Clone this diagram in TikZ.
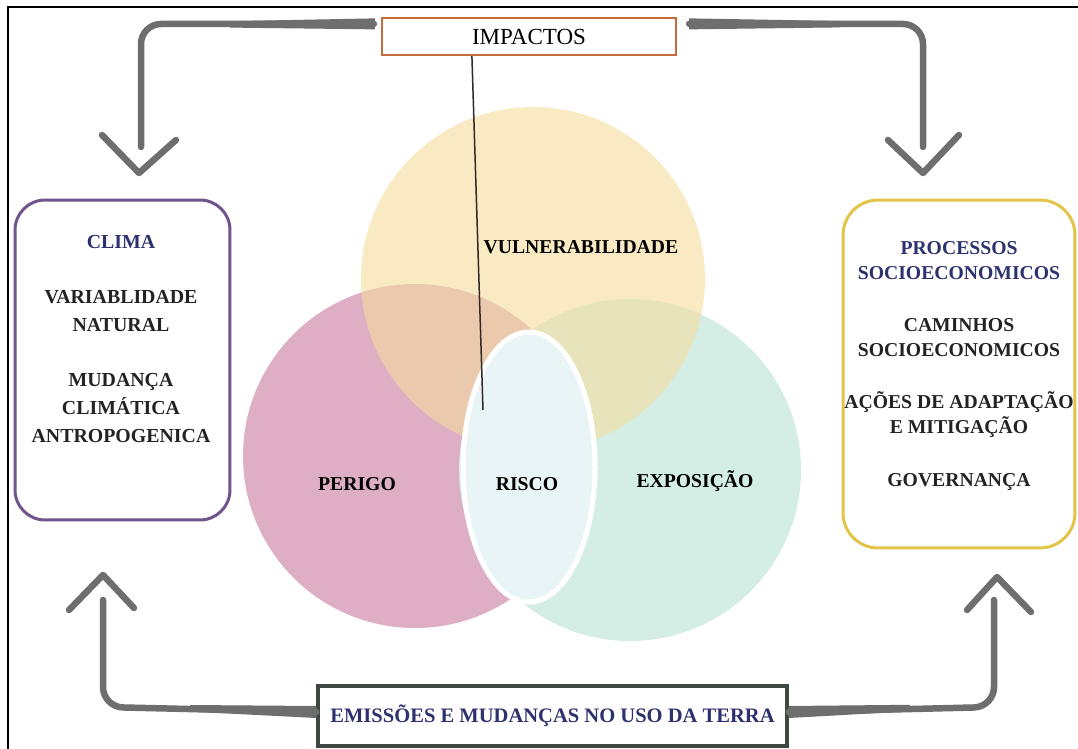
\documentclass[tikz,border=0pt]{standalone}
\usepackage{fontspec}
\setmainfont{Liberation Serif}
\usetikzlibrary{calc,shapes.geometric}
\definecolor{pinkc}{RGB}{222,174,196}
\definecolor{tealc}{RGB}{212,238,230}
\definecolor{yelc}{RGB}{245,220,157}
\definecolor{riscof}{RGB}{233,244,246}
\definecolor{arrowgray}{RGB}{110,110,110}
\definecolor{purplebox}{RGB}{112,84,140}
\definecolor{yellowbox}{RGB}{226,196,72}
\definecolor{orangebox}{RGB}{198,108,60}
\definecolor{darkbox}{RGB}{62,72,62}
\definecolor{titleblue}{RGB}{45,50,110}
\definecolor{txtc}{RGB}{35,35,35}
\definecolor{linec}{RGB}{50,40,40}
\begin{document}
\begin{tikzpicture}[x=0.02cm,y=-0.02cm,
  garrow/.style={draw=arrowgray,line width=0.13cm,line cap=round,line join=round},
  boxtxt/.style={font=\bfseries,align=center,inner sep=0pt,text=txtc,anchor=north},
  lbl/.style={font=\fontsize{11.2}{13}\selectfont\bfseries,inner sep=0pt,anchor=base,text=black}]
\useasboundingbox (0,0) rectangle (1078,749);
\clip (0,0) rectangle (1078,749);
\fill[white] (0,0) rectangle (1078,749);
\draw[line width=0.04cm] (8,749) -- (8,7) -- (1078,7);

% Venn circles
\fill[pinkc] (415,456) circle[radius=172];
\fill[tealc] (630,470) circle[radius=171];
\fill[yelc,fill opacity=0.6] (533,279) circle[radius=172];
\draw[white,line width=0.1cm,fill=riscof] (529,467) ellipse[x radius=66,y radius=135];

% boxes
\node[draw=orangebox,line width=0.045cm,fill=white,minimum width=5.88cm,minimum height=0.74cm,inner sep=0pt,font=\fontsize{13.1}{15}\selectfont] (imp) at (529,36.5) {IMPACTOS};

\node[draw=purplebox,line width=0.06cm,rounded corners=0.6cm,fill=white,minimum width=4.3cm,minimum height=6.4cm,inner sep=0pt] (clima) at (122.5,360) {};
\node[boxtxt,font=\fontsize{11.3}{15.9}\selectfont\bfseries] (climatxt) at (121,235.5)
  {\textcolor{titleblue}{CLIMA}\\[15.4pt] VARIABLIDADE\\NATURAL\\[15.4pt] MUDANÇA\\CLIMÁTICA\\ANTROPOGENICA};

\node[draw=yellowbox,line width=0.06cm,rounded corners=0.7cm,fill=white,minimum width=4.64cm,minimum height=6.96cm,inner sep=0pt] (proc) at (959,374) {};
\node[boxtxt,font=\fontsize{11.2}{14.2}\selectfont\bfseries] (proctxt) at (959,241)
  {\textcolor{titleblue}{PROCESSOS}\\\textcolor{titleblue}{SOCIOECONOMICOS}\\[15.6pt] CAMINHOS\\SOCIOECONOMICOS\\[15.6pt] AÇÕES DE ADAPTAÇÃO\\E MITIGAÇÃO\\[15.6pt] GOVERNANÇA};

\node[draw=darkbox,line width=0.07cm,fill=white,minimum width=9.38cm,minimum height=1.2cm,inner sep=0pt,text=titleblue,font=\fontsize{11.7}{14}\selectfont\bfseries] (emis) at (552.5,716) {EMISSÕES E MUDANÇAS NO USO DA TERRA};

% circle labels
\node[lbl] (vul) at (581,254) {VULNERABILIDADE};
\node[lbl] (per) at (357,491) {PERIGO};
\node[lbl] (ris) at (527,491) {RISCO};
\node[lbl] (exp) at (695,487) {EXPOSIÇÃO};

% thin line from IMPACTOS
\coordinate (lineend) at (483,410);
\draw[line width=0.03cm,linec] ($(imp.south west)+(91,0)$) -- (lineend);

% top-left arrow
\fill[arrowgray] ($(imp.north west)+(-6,1.5)$) -- ($(imp.north west)+(-6,12.5)$) -- (230,27.6) -- (230,21.2) -- cycle;
\draw[garrow,rounded corners=0.4cm] ($(imp.north west)+(-7,7)$) -- (141,24) -- (141,147);
\coordinate (tlA) at (102,135); \coordinate (tlT) at (139,173); \coordinate (tlB) at (176,140);
\draw[garrow] (tlA) -- (tlT) -- (tlB);

% top-right arrow
\fill[arrowgray] ($(imp.north east)+(12,1.5)$) -- ($(imp.north east)+(12,12.5)$) -- (840,27.4) -- (840,21) -- cycle;
\draw[garrow,rounded corners=0.4cm] ($(imp.north east)+(12,7)$) -- (923,24) -- (923,147);
\coordinate (trA) at (888,140); \coordinate (trT) at (923,173); \coordinate (trB) at (959,135);
\draw[garrow] (trA) -- (trT) -- (trB);

% bottom-left arrow
\fill[arrowgray] ($(emis.west)+(0,-10)$) -- ($(emis.west)+(0,2)$) -- (190,711.6) -- (190,705) -- cycle;
\draw[garrow,rounded corners=0.4cm] ($(emis.west)+(0,-4)$) -- (103,707) -- (103,600);
\coordinate (blA) at (69,610); \coordinate (blT) at (103,575); \coordinate (blB) at (134,608);
\draw[garrow] (blA) -- (blT) -- (blB);

% bottom-right arrow
\fill[arrowgray] ($(emis.east)+(0,-10)$) -- ($(emis.east)+(0,2)$) -- (910,711.3) -- (910,704.8) -- cycle;
\draw[garrow,rounded corners=0.4cm] ($(emis.east)+(0,-4)$) -- (994,707) -- (994,600);
\coordinate (brA) at (967,610); \coordinate (brT) at (997,577); \coordinate (brB) at (1031,612);
\draw[garrow] (brA) -- (brT) -- (brB);
\end{tikzpicture}
\end{document}
